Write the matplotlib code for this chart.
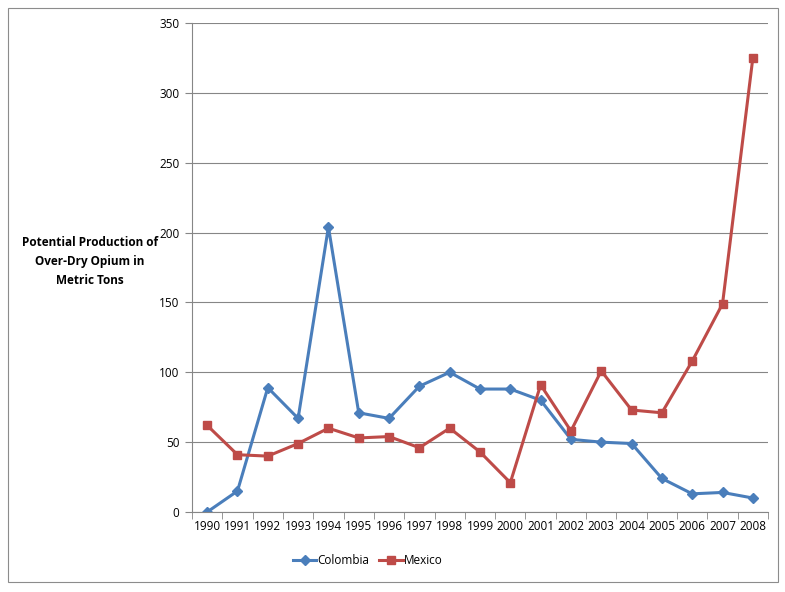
import matplotlib.pyplot as plt
import numpy as np
from matplotlib.patches import Rectangle

years = [str(y) for y in range(1990, 2009)]
colombia = [0, 15, 89, 67, 204, 71, 67, 90, 100, 88, 88, 80, 52, 50, 49, 24, 13, 14, 10]
mexico = [62, 41, 40, 49, 60, 53, 54, 46, 60, 43, 21, 91, 58, 101, 73, 71, 108, 149, 325]

plt.rcParams['font.family'] = ['Open Sans', 'DejaVu Sans']

fig = plt.figure(figsize=(7.85, 5.92), dpi=100)
ax = fig.add_axes([192 / 785, 1 - 512 / 592, 576 / 785, 489 / 592])

# outer chart border
fig.patches.append(Rectangle((8 / 785, 10 / 592), 770 / 785, 574 / 592,
                             transform=fig.transFigure, fill=False,
                             edgecolor='#8c8c8c', linewidth=0.8))

x = np.arange(len(years))
ax.plot(x, colombia, color='#4a7ebb', lw=2.2, marker='D', ms=5, label='Colombia')
ax.plot(x, mexico, color='#be4b48', lw=2.2, marker='s', ms=6, label='Mexico')

ax.set_xlim(-0.5, len(years) - 0.5)
ax.set_ylim(0, 350)
ax.set_yticks(np.arange(0, 351, 50))
ax.set_xticks(x)
ax.set_xticklabels(years)
ax.set_xticks(np.arange(-0.5, len(years), 1), minor=True)
ax.tick_params(axis='x', which='major', length=0, labelsize=8.5, pad=6)
ax.tick_params(axis='x', which='minor', length=5, color='#868686')
ax.tick_params(axis='y', length=5, color='#868686', labelsize=8.5, pad=4)
ax.grid(axis='y', color='#868686', lw=0.8)
ax.set_axisbelow(True)
for s in ['top', 'right']:
    ax.spines[s].set_visible(False)
for s in ['left', 'bottom']:
    ax.spines[s].set_color('#868686')

fig.text(90 / 785, 1 - 262 / 592,
         'Potential Production of\nOver-Dry Opium in\nMetric Tons',
         ha='center', va='center', fontsize=8.5, fontweight='bold', linespacing=1.6)

ax.legend(loc='center', bbox_to_anchor=(0.305, -0.1), ncol=2, frameon=False,
          fontsize=8.5, handlelength=2, columnspacing=0.8, handletextpad=0.1)

fig.savefig('out.png', dpi=100)
